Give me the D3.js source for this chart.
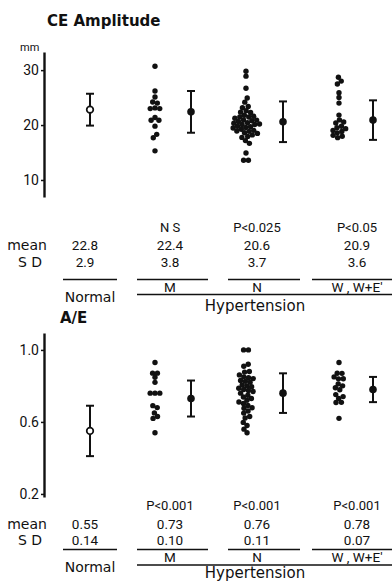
<!DOCTYPE html>
<html>
<head>
<meta charset="utf-8">
<script src="https://cdn.jsdelivr.net/npm/d3@7"></script>
<style>
body{margin:0;background:#fff;}
svg text{font-family:Roboto,"DejaVu Sans",sans-serif;fill:#111;}
svg text.wide{font-family:"DejaVu Sans",sans-serif;}
</style>
</head>
<body>
<div id="chart"></div>
<script>
// groups and summary stats
const groups = ["Normal", "M", "N", "W , W+E'"];
const ceMean = [22.8, 22.4, 20.6, 20.9];
const ceSD = [2.9, 3.8, 3.7, 3.6];
const ceP = ["", "N S", "P<0.025", "P<0.05"];
const aeMean = [0.55, 0.73, 0.76, 0.78];
const aeSD = [0.14, 0.10, 0.11, 0.07];
const aeP = ["", "P<0.001", "P<0.001", "P<0.001"];

// individual patients, CE amplitude (mm)
const ceM = [30.7, 26.2, 25.1, 24.2, 24.0, 23.1, 23.0, 23.0, 21.3, 20.9, 20.9, 19.8, 18.2, 17.8, 15.3];
const ceN = [29.8, 28.9, 26.7, 24.9, 24.2, 23.3, 23.1, 22.5, 22.2, 22.0, 21.8, 21.6, 21.5, 21.3, 21.1, 21.0,
             20.8, 20.7, 20.6, 20.5, 20.3, 20.2, 20.1, 20.0, 19.9, 19.8, 19.7, 19.5, 19.3, 19.1, 19.0, 18.9,
             18.8, 18.6, 18.3, 18.0, 17.7, 17.2, 16.7, 14.9, 13.6, 13.6];
const ceW = [28.7, 28.0, 27.5, 25.8, 25.1, 24.0, 21.8, 20.9, 20.5, 20.4, 19.8, 19.5, 19.3, 19.0, 18.8, 18.5, 18.2, 18.0, 17.8];

// individual patients, A/E
const aeM = [0.93, 0.87, 0.87, 0.85, 0.82, 0.76, 0.76, 0.76, 0.69, 0.68, 0.65, 0.63, 0.62, 0.54];
const aeN = [1.00, 1.00, 0.92, 0.91, 0.88, 0.87, 0.86, 0.85, 0.84, 0.84, 0.83, 0.82, 0.82, 0.81, 0.80, 0.80,
             0.79, 0.78, 0.78, 0.77, 0.76, 0.75, 0.74, 0.73, 0.72, 0.71, 0.70, 0.69, 0.68, 0.68, 0.66, 0.65,
             0.63, 0.62, 0.60, 0.58, 0.56, 0.54];
const aeW = [0.93, 0.87, 0.87, 0.85, 0.84, 0.84, 0.81, 0.80, 0.79, 0.78, 0.75, 0.74, 0.73, 0.71, 0.71, 0.62];

const ceTicks = [10, 20, 30];
const aeTicks = [0.2, 0.6, 1.0];

const W = 392, H = 582;
const svg = d3.select("#chart").append("svg").attr("width", W).attr("height", H);

// horizontal placement
const xBar = d3.scaleOrdinal().domain(groups).range([90, 191, 283, 373]);
const xDots = d3.scaleOrdinal().domain(groups).range([0, 155, 246, 339]);
const xText = d3.scaleOrdinal().domain(groups).range([85, 170, 257, 357]);
const lineExt = d3.scaleOrdinal().domain(groups).range([[63, 117], [137, 208], [228, 300], [312, 392]]);

function swarm(values, cx, y, r) {
    let nodes = values.map(v => ({v: v, x: cx, y: y(v), ty: y(v)}));
    let sim = d3.forceSimulation(nodes)
        .force("x", d3.forceX(cx).strength(0.05))
        .force("y", d3.forceY(d => d.ty).strength(0.7))
        .force("c", d3.forceCollide(r))
        .stop();
    for (let i = 0; i < 250; i++) sim.tick();
    return nodes;
}

function panel(cfg) {
    let y = d3.scaleLinear().domain(cfg.domain).range(cfg.range);
    let g = svg.append("g");

    g.append("text").attr("class", "wide").attr("x", cfg.titleX).attr("y", cfg.titleY)
        .style("font-size", "15px").style("font-weight", "bold").text(cfg.title);
    if (cfg.unit) {
        g.append("text").attr("x", 20).attr("y", 51).style("font-size", "11px").text(cfg.unit);
    }

    let yAxis = d3.axisLeft(y).tickValues(cfg.ticks).tickFormat(cfg.fmt)
        .tickSize(3).tickSizeOuter(0).tickPadding(2);
    let ax = g.append("g").attr("transform", "translate(44,0)").call(yAxis);
    ax.select(".domain").attr("stroke-width", 2.4).attr("stroke", "#111");
    ax.selectAll(".tick line").attr("stroke-width", 1.5).attr("stroke", "#111");
    ax.selectAll(".tick text").style("font-size", "14px").attr("fill", "#111");

    // scatter of patients
    cfg.dots.forEach(function(vals, i) {
        let grp = groups[i + 1];
        let nodes = swarm(vals, xDots(grp), y, 2.4);
        g.selectAll(null).data(nodes).enter().append("circle")
            .attr("cx", d => d.x).attr("cy", d => d.y).attr("r", 2.7).attr("fill", "#111");
    });

    // mean +- SD
    groups.forEach(function(grp, i) {
        let cx = xBar(grp), m = cfg.mean[i], s = cfg.sd[i];
        g.append("line").attr("x1", cx).attr("x2", cx).attr("y1", y(m + s)).attr("y2", y(m - s))
            .attr("stroke", "#111").attr("stroke-width", 2);
        [m + s, m - s].forEach(function(v) {
            g.append("line").attr("x1", cx - 4).attr("x2", cx + 4).attr("y1", y(v)).attr("y2", y(v))
                .attr("stroke", "#111").attr("stroke-width", 2);
        });
        if (i == 0) {
            g.append("circle").attr("cx", cx).attr("cy", y(m)).attr("r", 3.3)
                .attr("fill", "#fff").attr("stroke", "#111").attr("stroke-width", 1.7);
        } else {
            g.append("circle").attr("cx", cx).attr("cy", y(m)).attr("r", 3.8).attr("fill", "#111");
        }
    });

    // table under the plot
    let r = cfg.rows;
    g.append("text").attr("class", "wide").attr("x", 27).attr("y", r.mean).attr("text-anchor", "middle").style("font-size", "14px").text("mean");
    g.append("text").attr("class", "wide").attr("x", 30).attr("y", r.sd).attr("text-anchor", "middle").style("font-size", "14px").text("S D");
    groups.forEach(function(grp, i) {
        let cx = xText(grp);
        g.append("text").attr("x", cx).attr("y", r.p).attr("text-anchor", "middle").style("font-size", "13px").text(cfg.p[i]);
        g.append("text").attr("x", cx).attr("y", r.mean).attr("text-anchor", "middle").style("font-size", "13.5px").text(d3.format(cfg.statFmt)(cfg.mean[i]));
        g.append("text").attr("x", cx).attr("y", r.sd).attr("text-anchor", "middle").style("font-size", "13.5px").text(d3.format(cfg.statFmt)(cfg.sd[i]));
        let ext = lineExt(grp);
        g.append("line").attr("x1", ext[0]).attr("x2", ext[1]).attr("y1", r.under).attr("y2", r.under)
            .attr("stroke", "#111").attr("stroke-width", 1.6);
        if (i == 0) {
            g.append("text").attr("class", "wide").attr("x", (ext[0] + ext[1]) / 2).attr("y", r.normal).attr("text-anchor", "middle")
                .style("font-size", "14px").text(grp);
        } else {
            g.append("text").attr("x", cx).attr("y", r.grp).attr("text-anchor", "middle").style("font-size", "13.5px").text(grp);
        }
    });
    g.append("line").attr("x1", 137).attr("x2", 392).attr("y1", r.hline).attr("y2", r.hline)
        .attr("stroke", "#111").attr("stroke-width", 1.6);
    g.append("text").attr("class", "wide").attr("x", 255).attr("y", r.hyp).attr("text-anchor", "middle").style("font-size", "15px").text("Hypertension");
}

panel({
    title: "CE Amplitude", titleX: 47, titleY: 26, unit: "mm",
    domain: [6.9, 33.3], range: [197, 52], ticks: ceTicks, fmt: d3.format("d"),
    dots: [ceM, ceN, ceW], mean: ceMean, sd: ceSD, p: ceP, statFmt: ".1f",
    rows: {p: 232, mean: 250, sd: 267, under: 279.5, grp: 292, hline: 294.5, normal: 302, hyp: 311}
});

panel({
    title: "A/E", titleX: 60, titleY: 323, unit: null,
    domain: [0.183, 1.094], range: [497, 333], ticks: aeTicks, fmt: d3.format(".1f"),
    dots: [aeM, aeN, aeW], mean: aeMean, sd: aeSD, p: aeP, statFmt: ".2f",
    rows: {p: 510, mean: 529, sd: 545, under: 549.5, grp: 562, hline: 565, normal: 572, hyp: 578}
});
</script>
</body>
</html>
